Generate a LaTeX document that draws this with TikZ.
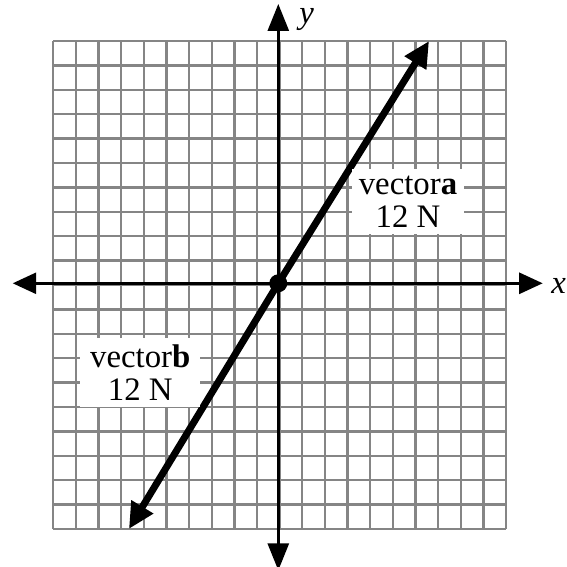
\documentclass[tikz,border=0pt]{standalone}
\usepackage{fontspec}
\setmainfont{Liberation Serif}
\usetikzlibrary{arrows.meta}

\tikzset{
  axline/.style = {draw=black, line width=1.35pt,
                   {Triangle[length=#1, width=10.5pt]}-{Triangle[length=#1, width=10.5pt]}}
}

\begin{document}
\begin{tikzpicture}[
  x=11.3175pt, y=12.2pt,
  every node/.style = {font=\fontsize{16.4}{16.7}\selectfont},
  gridln/.style = {draw=black!48, line width=1.15pt, step=1},
  vec/.style    = {draw=black, line width=3.5pt,
                   -{Triangle[length=13pt, width=12pt]}},
  dot/.style    = {circle, fill=black, inner sep=0pt, minimum size=9pt},
  tag/.style    = {fill=white, inner sep=0pt, align=center}
]
\useasboundingbox (-12.295,-11.627) rectangle (12.71,11.61);

%% ── GRID ─────────────────────────────────────────────────────────
\begin{scope}[shift={(0.06,-0.07)}]
  \draw[gridln] (-10,-10) grid (10,10);
\end{scope}

%% ── AXES ─────────────────────────────────────────────────────────
\coordinate (xl) at (-11.734, 0);
\coordinate (xr) at (11.68,  0);
\coordinate (yt) at (0,  11.447);
\coordinate (yb) at (0, -11.766);
\draw[axline=11.75pt] (xl) -- (xr);
\draw[axline=13.5pt]  (yb) -- (yt);
\node[inner sep=1pt] (xlab) at (12.39, -0.10) {\itshape x};
\node[inner sep=1pt] (ylab) at (1.25,  10.8) {\itshape y};

%% ── VECTORS ──────────────────────────────────────────────────────
\node[dot] (o) at (0,0) {};
\coordinate (atip) at (6.66,  9.93);
\coordinate (btip) at (-6.6, -10.07);
\draw[vec] (o.center) -- (atip);
\draw[vec] (o.center) -- (btip);

%% ── LABELS ───────────────────────────────────────────────────────
\node[tag, minimum width=56pt, minimum height=32.5pt] (la) at (5.73, 3.35)
  {vector\textbf{a}\\12 N};
\node[tag, minimum width=60pt, minimum height=34.5pt] (lb) at (-6.1, -3.66)
  {vector\textbf{b}\\12 N};

\end{tikzpicture}
\end{document}
